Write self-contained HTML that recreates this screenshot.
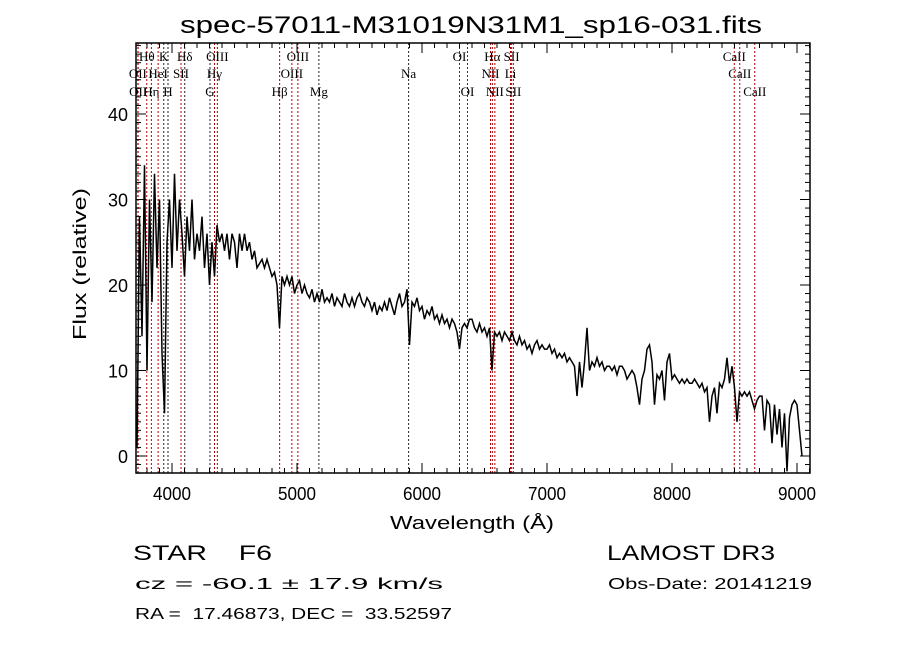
<!DOCTYPE html>
<html><head><meta charset="utf-8"><style>
body{margin:0;background:#fff}
svg{display:block}
text{font-family:"Liberation Sans",sans-serif}
.ll{font-family:"Liberation Serif",serif;font-size:13px}
</style></head><body>
<svg id="c" width="900" height="649" xmlns="http://www.w3.org/2000/svg">
<rect width="900" height="649" fill="#fff"/>
<text x="180" y="33" font-size="24" textLength="582" lengthAdjust="spacingAndGlyphs">spec-57011-M31019N31M1_sp16-031.fits</text>
<text x="390" y="529" font-size="18" textLength="164" lengthAdjust="spacingAndGlyphs">Wavelength (Å)</text>
<text x="86" y="340" font-size="18" textLength="152" lengthAdjust="spacingAndGlyphs" transform="rotate(-90 86 340)">Flux (relative)</text>
<text x="133" y="560" font-size="21" textLength="139" lengthAdjust="spacingAndGlyphs">STAR&#160;&#160;&#160;&#160;F6</text>
<text x="135" y="589" font-size="16" textLength="308" lengthAdjust="spacingAndGlyphs">cz = -60.1 ± 17.9 km/s</text>
<text x="135" y="619" font-size="16" textLength="317" lengthAdjust="spacingAndGlyphs">RA =&#160;&#160;17.46873, DEC =&#160;&#160;33.52597</text>
<text x="607" y="560" font-size="21" textLength="168" lengthAdjust="spacingAndGlyphs">LAMOST DR3</text>
<text x="608" y="589" font-size="16" textLength="204" lengthAdjust="spacingAndGlyphs">Obs-Date: 20141219</text>
<g id="g"></g>
</svg>
<script>
const lineWaves=[3727,3729,3798,3835,3889,3934,3968,4072,4102,4304,4340,4363,4861,4959,5007,5175,5893,6300,6364,6548,6563,6583,6708,6717,6731,8498,8542,8662];
const lineLabels=["OII","OII","Hθ","Hη","HeI","K","H","SII","Hδ","G","Hγ","OIII","Hβ","OIII","OIII","Mg","Na","OI","OI","NII","Hα","NII","Li","SII","SII","CaII","CaII","CaII"];
const lineRows=[2,3,1,3,2,1,3,2,1,3,2,1,3,2,1,3,2,1,3,2,1,3,2,1,3,1,2,3];
const lineBlack=[0,0,0,0,0,1,1,0,1,1,0,0,0,0,0,1,1,0,0,0,0,0,0,0,0,0,0,0];
const xTicks=[4000,5000,6000,7000,8000,9000];
const yTicks=[0,10,20,30,40];
const waveStart=3720, waveStep=20;
const flux=[1,28,14,34,10, 30,18,33,22,30, 12,5,25,30,22, 33,24,30,26,21, 28,24,30,23,26, 24,28,22,26,20,
25,21,27,25,26, 24,26,23,26,25, 22,26,24,26,24, 25,23,24,22,22.5, 23,22,23,22,21, 21.5,20,15,21,20,
21,20,21,19,20, 20.5,19,20,19,18.5, 19.5,18,19,18,19.5, 18,18.5,18,19,17.5, 18.5,18,17.5,19,18,
17.5,18.5,17.5,18.5,19, 18,17.5,18.5,18,17, 18,16.5,17.5,17,18, 17,18.5,17.5,16.5,18, 19,17.5,18,19.5,13,
18,17.5,18.5,17,17.5, 16,17,16.5,17.5,16, 16.5,15.5,16.5,15.5,16, 15,16,15.5,14.5,12.5, 15,15.5,15,16,16,
15,14.5,15.5,14.5,15, 14,15,10,14.5,14, 14.5,13.5,14.5,14,13.5, 14.5,13.5,13,14,13, 13.5,12.5,13,12,13,
13.5,12.5,13,12.5,12.5, 13,12,12.5,11.5,12, 11.5,12,11,11.5,11, 10.5,7,11,8,11, 15,10,11,10.5,11.5,
10.5,11,10,10.5,10.5, 10,10.5,9.5,10.5,10.5, 10,9,9.5,10,9.5, 8,6,9,10,12.5, 13,11,6,9.5,9,
10,6.5,11,12,9, 9.5,9,8.5,9,8.5, 9,8.5,8.5,9,8.5, 8,8.5,7.5,8,4, 7,8,5,8.5,8,
9,11.5,8.5,10.5,8, 4,7.5,7,7.5,7, 7.5,6.5,5.5,6.5,7, 7,3,6.5,6,1.5, 6,2.5,5.5,1,5, -1.8,4.5,6,6.5,6, 3,0];
const L=136,R=810,T=43,B=473;
const xs=w=>172+(w-4000)*0.125;
const ys=f=>456-f*8.55;
const NS="http://www.w3.org/2000/svg";
const g=document.getElementById('g');
function mk(t,a){const e=document.createElementNS(NS,t);for(const k in a)e.setAttribute(k,a[k]);g.appendChild(e);return e;}
lineWaves.forEach((w,i)=>{
  const x=xs(w);
  const ln=mk('line',{x1:x,x2:x,y1:T,y2:B,stroke:lineBlack[i]?'#222':'#b00000','stroke-width':1,'stroke-dasharray':'2,2'});
  
  
  const tx=mk('text',{x:x,y:[0,61,78,96][lineRows[i]],'text-anchor':'middle',class:'ll'});
  tx.textContent=lineLabels[i];
  
  
});
let d='';
flux.forEach((f,i)=>{const x=xs(waveStart+i*waveStep),y=Math.max(T,Math.min(B,ys(f)));d+=(i?'L':'M')+x.toFixed(1)+','+y.toFixed(1);});
const sp=mk('path',{d:d,fill:'none',stroke:'#000','stroke-width':1.5});


const bx=mk('rect',{x:L,y:T,width:R-L,height:B-T,fill:'none',stroke:'#000','stroke-width':1.5});


for(let w=3800;w<=9100;w+=100){const x=xs(w),m=w%1000===0?10:5;
  mk('line',{x1:x,x2:x,y1:B,y2:B-m,stroke:'#000'});mk('line',{x1:x,x2:x,y1:T,y2:T+m,stroke:'#000'});}
xTicks.forEach(w=>{const t=mk('text',{x:xs(w)-19,y:B+27,'font-size':18,textLength:38,lengthAdjust:'spacingAndGlyphs'});t.textContent=w;
  
  });
for(let f=-2;f<=48;f++){const y=ys(f),m=f%10===0?10:5;
  mk('line',{x1:L,x2:L+m,y1:y,y2:y,stroke:'#000'});mk('line',{x1:R,x2:R-m,y1:y,y2:y,stroke:'#000'});}
yTicks.forEach(f=>{const t=mk('text',{x:128,y:ys(f)+7,'font-size':18,'text-anchor':'end'});t.textContent=f;
  
  });
</script>
</body></html>
